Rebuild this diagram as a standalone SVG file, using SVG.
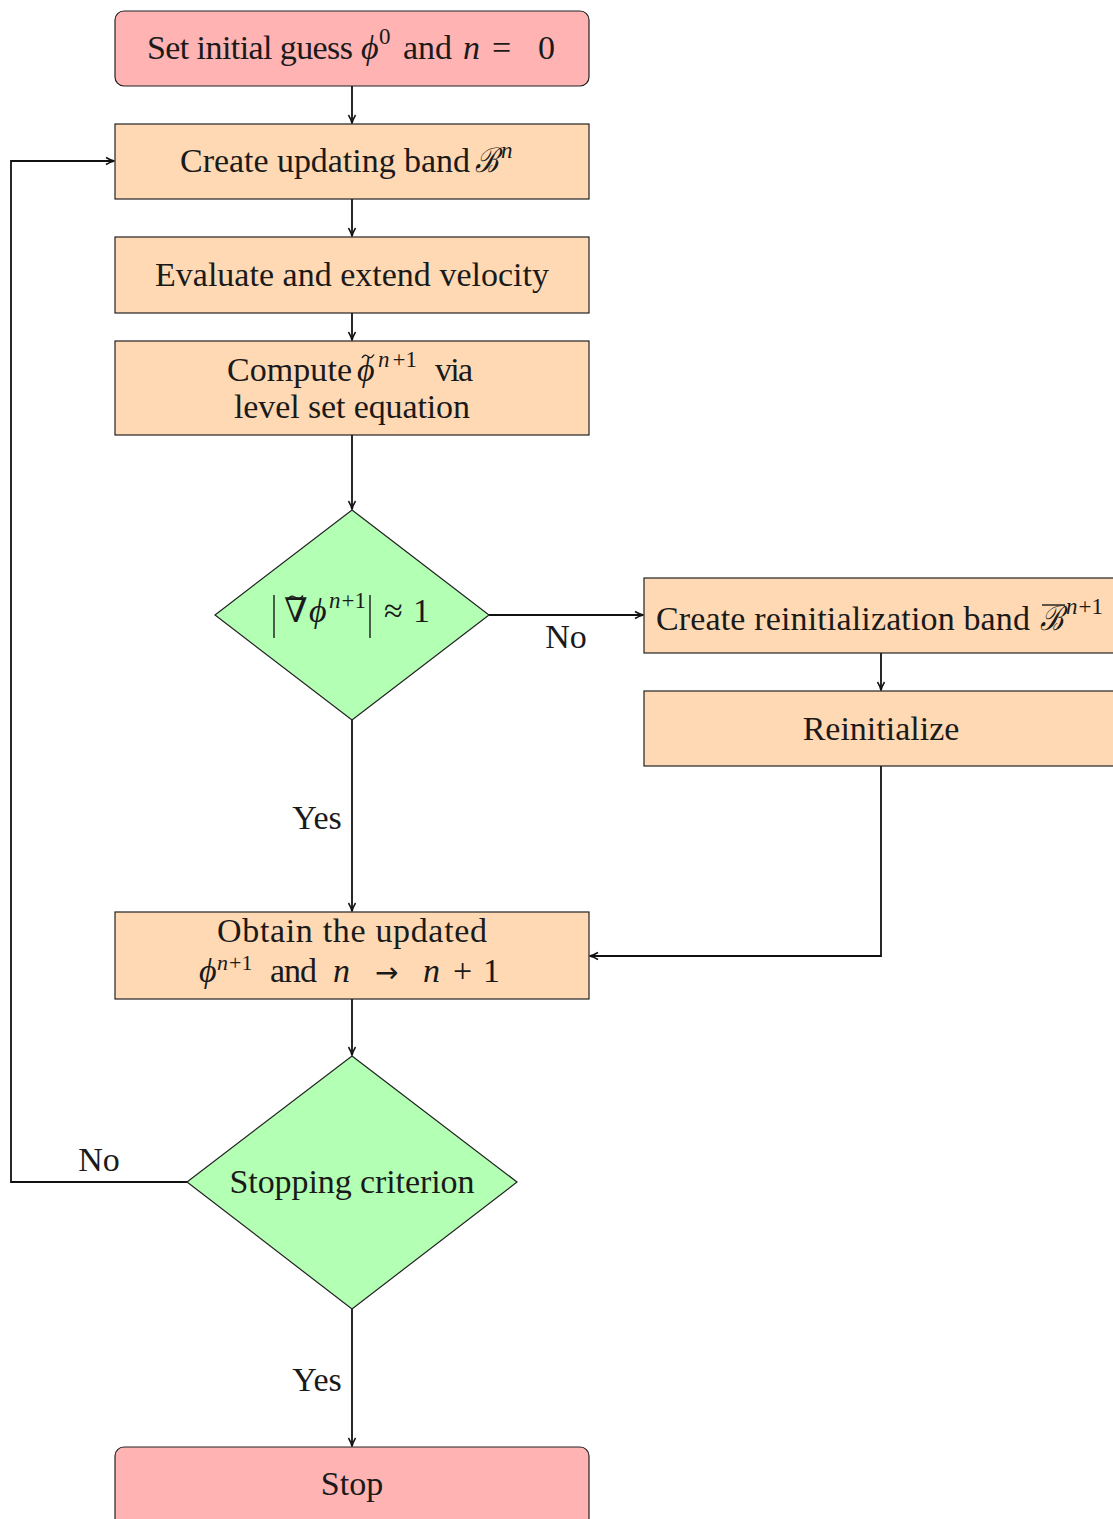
<svg xmlns="http://www.w3.org/2000/svg" width="1113" height="1519" viewBox="0 0 1113 1519">
<style>
text{font-family:"Liberation Serif","DejaVu Serif",serif;font-size:34px;fill:#1a1a1a}
.ct{text-anchor:middle}
.m{font-style:italic}
.up{font-style:normal}
.sup{font-size:23px}
.arw{font-family:"DejaVu Sans",sans-serif;font-size:28px}
.term{fill:#ffb3b3;stroke:#222;stroke-width:1.2}
.proc{fill:#ffd9b3;stroke:#222;stroke-width:1.2}
.dec{fill:#b3ffb3;stroke:#222;stroke-width:1.2}
.c{fill:none;stroke:#111;stroke-width:1.8}
.bar{fill:none;stroke:#1a1a1a;stroke-width:1.4}
</style>
<defs>
<marker id="ar" viewBox="0 0 10 10" refX="9" refY="5" markerWidth="10" markerHeight="10" markerUnits="userSpaceOnUse" orient="auto">
<path d="M1,1.5 Q5,4 9.5,5 Q5,6 1,8.5" fill="none" stroke="#111" stroke-width="1.5"/>
</marker>
</defs>
<g id="connectors">
<path class="c" d="M352,86 V123" marker-end="url(#ar)"/>
<path class="c" d="M352,199 V236" marker-end="url(#ar)"/>
<path class="c" d="M352,313 V340" marker-end="url(#ar)"/>
<path class="c" d="M352,435 V509" marker-end="url(#ar)"/>
<path class="c" d="M489,615 H643" marker-end="url(#ar)"/>
<path class="c" d="M881,653 V690" marker-end="url(#ar)"/>
<path class="c" d="M881,766 V956 H590" marker-end="url(#ar)"/>
<path class="c" d="M352,720 V911" marker-end="url(#ar)"/>
<path class="c" d="M352,999 V1055" marker-end="url(#ar)"/>
<path class="c" d="M187,1182 H11 V161 H114" marker-end="url(#ar)"/>
<path class="c" d="M352,1309 V1446" marker-end="url(#ar)"/>
<text class="ct" x="566" y="648">No</text>
<text class="ct" x="317" y="829">Yes</text>
<text class="ct" x="99" y="1171">No</text>
<text class="ct" x="317" y="1391">Yes</text>
</g>
<g id="start">
<rect class="term" x="115" y="11" width="474" height="75" rx="9"/>
<text x="147" y="59" textLength="206" lengthAdjust="spacing">Set initial guess</text>
<text class="m" x="361" y="59">ϕ<tspan class="sup up" x="379" y="44">0</tspan></text>
<text x="403" y="59" textLength="49" lengthAdjust="spacing">and</text>
<text class="m" x="463" y="59">n<tspan class="up" x="492">=</tspan><tspan class="up" x="538">0</tspan></text>
</g>
<g id="band">
<rect class="proc" x="115" y="124" width="474" height="75"/>
<text x="180" y="172" textLength="290" lengthAdjust="spacing">Create updating band</text>
<text class="m" x="475" y="172" textLength="23" lengthAdjust="spacingAndGlyphs">ℬ</text>
<text class="sup m" x="501" y="158">n</text>
</g>
<g id="velocity">
<rect class="proc" x="115" y="237" width="474" height="76"/>
<text class="ct" x="352" y="286" textLength="394" lengthAdjust="spacing">Evaluate and extend velocity</text>
</g>
<g id="compute">
<rect class="proc" x="115" y="341" width="474" height="94"/>
<text x="227" y="381" textLength="125" lengthAdjust="spacing">Compute</text>
<path class="bar" d="M362,358 c2,-3.5 4,-3.5 6,-1.5 s4,1.5 6,-2"/>
<text class="m" x="357" y="381">ϕ<tspan class="sup" x="378" y="367">n</tspan><tspan class="sup up" dx="3">+1</tspan></text>
<text x="435" y="381" textLength="38" lengthAdjust="spacing">via</text>
<text class="ct" x="352" y="418" textLength="236" lengthAdjust="spacing">level set equation</text>
</g>
<g id="check">
<polygon class="dec" points="352,510 489,615 352,720 215,615"/>
<path class="bar" d="M274,595 V638 M370,595 V638"/>
<path class="bar" d="M288,599 c2.5,-3.5 5,-3.5 7.5,-1.5 s5,1.5 7.5,-2"/>
<text x="284" y="622">∇<tspan class="m" x="309">ϕ</tspan><tspan class="sup m" x="329" y="608">n</tspan><tspan class="sup" dx="1">+1</tspan><tspan x="384" y="622">≈</tspan><tspan x="413">1</tspan></text>
</g>
<g id="reinitband">
<rect class="proc" x="644" y="578" width="475" height="75"/>
<text x="656" y="630" textLength="374" lengthAdjust="spacing">Create reinitialization band</text>
<text class="m" x="1040" y="630" textLength="23" lengthAdjust="spacingAndGlyphs">ℬ</text>
<path class="bar" d="M1042,605 H1065"/>
<text class="sup" x="1066" y="614"><tspan class="m">n</tspan><tspan dx="1">+1</tspan></text>
</g>
<g id="reinit">
<rect class="proc" x="644" y="691" width="475" height="75"/>
<text class="ct" x="881" y="740">Reinitialize</text>
</g>
<g id="obtain">
<rect class="proc" x="115" y="912" width="474" height="87"/>
<text class="ct" x="352" y="942" textLength="270" lengthAdjust="spacing">Obtain the updated</text>
<text class="m" x="199" y="982">ϕ<tspan class="sup" style="font-size:22px" x="217" y="970">n</tspan><tspan class="sup up" style="font-size:22px" dx="1">+1</tspan></text>
<text x="270" y="982" textLength="47" lengthAdjust="spacing">and</text>
<text class="m" x="333" y="982">n<tspan class="arw up" x="375">→</tspan><tspan x="423">n</tspan><tspan class="up" x="453">+</tspan><tspan class="up" x="483">1</tspan></text>
</g>
<g id="stopcheck">
<polygon class="dec" points="352,1056 517,1182 352,1309 187,1182"/>
<text class="ct" x="352" y="1193" textLength="245" lengthAdjust="spacing">Stopping criterion</text>
</g>
<g id="stop">
<rect class="term" x="115" y="1447" width="474" height="84" rx="9"/>
<text class="ct" x="352" y="1495">Stop</text>
</g>
</svg>
